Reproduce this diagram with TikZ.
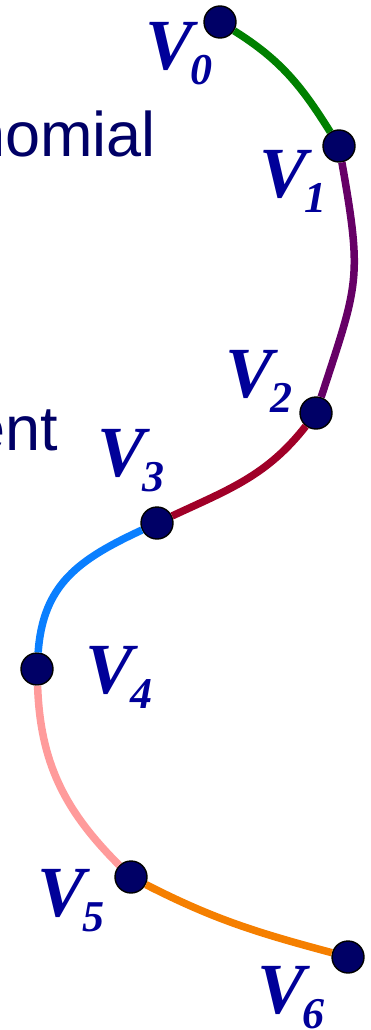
\documentclass[tikz,border=0pt]{standalone}
\usepackage{fontspec}
\setmainfont{Liberation Serif}
\newfontfamily\slidefont{Liberation Sans}
\definecolor{navy}{HTML}{000066}
\definecolor{labblue}{HTML}{000099}
\definecolor{segA}{HTML}{008000}
\definecolor{segB}{HTML}{660066}
\definecolor{segC}{HTML}{A00028}
\definecolor{segD}{HTML}{0A7FFF}
\definecolor{segE}{HTML}{FF9B9B}
\definecolor{segF}{HTML}{F57F00}
\newcommand{\vlab}[1]{{\fontsize{72}{72}\selectfont\bfseries\itshape V}\kern-3pt%
  \raisebox{-15pt}{\fontsize{44}{44}\selectfont\bfseries\itshape #1}}
\begin{document}
\begin{tikzpicture}[x=1pt, y=1pt,
  vertex/.style={circle, fill=navy, draw=black, line width=1.4pt,
    minimum size=32pt, inner sep=0pt},
  vname/.style={anchor=base west, inner sep=0pt, text=labblue},
  slidetext/.style={anchor=base east, inner sep=0pt, text=navy,
    font=\slidefont\fontsize{63}{63}\selectfont},
  seg/.style={line width=7.5pt}]
  \useasboundingbox (0,0) rectangle (370,-1030);
  % text of the slide behind the curve
  \node[slidetext] (txtA) at (156,-157) {nomial};
  \node[slidetext] (txtB) at (58,-450) {ent};
  % the points
  \node[vertex] (v0) at (220,-22) {};
  \node[vertex] (v1) at (339,-146) {};
  \node[vertex] (v2) at (316,-413) {};
  \node[vertex] (v3) at (157,-523) {};
  \node[vertex] (v4) at (37,-669) {};
  \node[vertex] (v5) at (131,-877) {};
  \node[vertex] (v6) at (348,-957) {};
  % the segments
  \draw[seg, segA] (v0) to[out=-32, in=122] (v1);
  \draw[seg, segB] (v1) to[out=-80, in=72, looseness=1.3] (v2);
  \draw[seg, segC] (v2) to[out=-128, in=25] (v3);
  \draw[seg, segD] (v3) to[out=-155, in=86, looseness=1.1] (v4);
  \draw[seg, segE] (v4) to[out=-88, in=135] (v5);
  \draw[seg, segF] (v5) to[out=-27, in=165] (v6);
  % labels
  \node[vname] (l0) at (145,-70) {\vlab{0}};
  \node[vname] (l1) at (259,-197) {\vlab{1}};
  \node[vname] (l2) at (225,-397) {\vlab{2}};
  \node[vname] (l3) at (97,-476) {\vlab{3}};
  \node[vname] (l4) at (85,-693) {\vlab{4}};
  \node[vname] (l5) at (37,-916) {\vlab{5}};
  \node[vname] (l6) at (257,-1013) {\vlab{6}};
\end{tikzpicture}
\end{document}
